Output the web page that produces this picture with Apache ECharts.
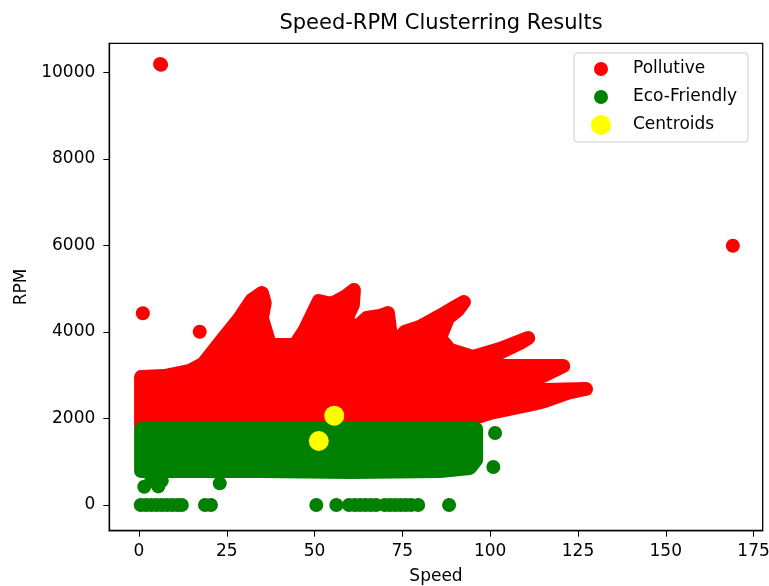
<!DOCTYPE html>
<html>
<head>
<meta charset="utf-8">
<script src="https://cdn.jsdelivr.net/npm/echarts@6/dist/echarts.min.js"></script>
<style>
    html, body {margin: 0; padding: 0; background: #fff;}
    #chart {width: 769px; height: 586px;}
</style>
</head>
<body>
<div id="chart"></div>
<script>
// outline (marker centres) of the dense red cloud
const pollutiveSpeed = [0.6, 0.6, 7.3, 14.5, 18.2, 23.6, 28.7, 32.1, 35.0, 35.8, 35.0, 37.3, 44.4, 47.2, 51.2, 54.9, 58.6, 61.2, 60.9, 58.9,
    61.8, 64.9, 68.6, 70.9, 71.5, 72.3, 75.7, 80.0, 85.7, 90.0, 92.5, 90.8, 88.0, 85.7, 88.6, 95.1, 102.8, 110.8, 108.5, 101.4,
    98.8, 109.9, 120.8, 115.6, 111.4, 109.1, 115.6, 127.3, 122.8, 115.6, 112.2, 100.0, 93.4, 93.4];
const pollutiveRpm = [1800, 2958, 2981, 3097, 3259, 3813, 4322, 4738, 4899, 4668, 4322, 3698, 3698, 4044, 4714, 4645, 4807, 4969, 4622, 4275,
    4090, 4322, 4368, 4437, 4044, 3698, 3998, 4114, 4368, 4576, 4691, 4506, 4322, 3859, 3582, 3420, 3605, 3859, 3744, 3467,
    3212, 3212, 3212, 3004, 2866, 2658, 2658, 2681, 2611, 2403, 2334, 2126, 1964, 1800];
// single red points away from the cloud
const pollutiveDotSpeed = [6.0, 6.3, 169.1, 1.1, 17.3];
const pollutiveDotRpm = [10190, 10175, 5993, 4430, 4005];

// outline of the green cloud
const ecoSpeed = [0.6, 0.6, 96.0, 96.0, 94.2, 85.7, 60.1, 34.4, 17.3, 0.6];
const ecoRpm = [786, 1756, 1756, 1040, 855, 786, 763, 786, 786, 786];
// single green points (stragglers and the zero-rpm row)
const ecoDotSpeed = [101.4, 100.9, 1.5, 5.5, 3.5, 23.0, 6.5,
    0.5, 2, 3.5, 5, 6.5, 8, 9.5, 11, 12.2, 18.8, 20.5, 50.5, 56.2, 59.8, 61.5, 63, 64.5, 66, 67.5,
    70, 71.5, 73, 74.5, 76, 77.5, 79.5, 88.3];
const ecoDotRpm = [1664, 878, 420, 430, 560, 500, 560,
    0, 0, 0, 0, 0, 0, 0, 0, 0, 0, 0, 0, 0, 0, 0, 0, 0, 0, 0,
    0, 0, 0, 0, 0, 0, 0, 0];

const centroidSpeed = [55.6, 51.2];
const centroidRpm = [2064, 1479];

const xTicks = [0, 25, 50, 75, 100, 125, 150, 175];
const yTicks = [0, 2000, 4000, 6000, 8000, 10000];

function pairs(xs, ys) {
    const out = [];
    for (let i = 0; i < xs.length; i++) {
        out.push([xs[i], ys[i]]);
    }
    return out;
}

// the cloud is drawn as its outline, stroked with the marker diameter
function cloud(name, speeds, rpms, color) {
    return {
        name: name,
        type: 'custom',
        silent: true,
        data: [[speeds[0], rpms[0]]],
        renderItem: function (params, api) {
            const pts = pairs(speeds, rpms).map(function (p) { return api.coord(p); });
            return {
                type: 'polygon',
                shape: {points: pts},
                style: {fill: color, stroke: color, lineWidth: 14, lineJoin: 'round'}
            };
        }
    };
}

const font = 'DejaVu Sans';
const chart = echarts.init(document.getElementById('chart'));

const option = {
    animation: false,
    backgroundColor: '#fff',
    title: {
        text: 'Speed-RPM Clusterring Results',
        left: 436,
        top: 8,
        textAlign: 'center',
        textStyle: {fontFamily: font, fontSize: 21, fontWeight: 'normal', color: '#000'}
    },
    legend: {
        orient: 'vertical',
        left: 574,
        top: 53,
        padding: [6, 11, 7, 0],
        itemWidth: 54,
        itemHeight: 20,
        itemGap: 8,
        borderColor: '#ccc',
        borderWidth: 1,
        borderRadius: 3,
        textStyle: {fontFamily: font, fontSize: 17, color: '#000'},
        data: [
            {name: 'Pollutive', icon: 'path://M0,0M54,20M20,10a7,7,0,1,0,14,0a7,7,0,1,0,-14,0z', itemStyle: {color: '#ff0000'}},
            {name: 'Eco-Friendly', icon: 'path://M0,0M54,20M20,10a7,7,0,1,0,14,0a7,7,0,1,0,-14,0z', itemStyle: {color: '#008000'}},
            {name: 'Centroids', icon: 'path://M0,0M54,20M17,10a10,10,0,1,0,20,0a10,10,0,1,0,-20,0z', itemStyle: {color: '#ffff00'}}
        ]
    },
    grid: {
        left: 109.3,
        right: 6.3,
        top: 43.3,
        bottom: 55.3,
        outerBoundsMode: 'none',
        show: true,
        borderColor: '#000',
        borderWidth: 1.3
    },
    xAxis: {
        type: 'value',
        min: -8.45,
        max: 177.6,
        name: 'Speed',
        nameLocation: 'middle',
        nameGap: 37,
        nameTextStyle: {fontFamily: font, fontSize: 17, color: '#000'},
        splitLine: {show: false},
        axisLine: {onZero: false, lineStyle: {color: '#000', width: 1.3}},
        axisTick: {customValues: xTicks, length: 6, lineStyle: {color: '#000'}},
        axisLabel: {
            customValues: xTicks, margin: 12, fontFamily: font, fontSize: 17, color: '#000',
            formatter: function (v) { return String(v); }
        }
    },
    yAxis: {
        type: 'value',
        min: -594,
        max: 10670,
        name: 'RPM',
        nameLocation: 'middle',
        nameGap: 64,
        nameTextStyle: {fontFamily: font, fontSize: 17, color: '#000'},
        splitLine: {show: false},
        axisLine: {onZero: false, lineStyle: {color: '#000', width: 1.3}},
        axisTick: {customValues: yTicks, length: 6, lineStyle: {color: '#000'}},
        axisLabel: {
            customValues: yTicks, margin: 14, fontFamily: font, fontSize: 17, color: '#000',
            formatter: function (v) { return String(v); }
        }
    },
    series: [
        cloud('Pollutive', pollutiveSpeed, pollutiveRpm, '#ff0000'),
        {
            name: 'Pollutive',
            type: 'scatter',
            symbolSize: 14,
            itemStyle: {color: '#ff0000', opacity: 1},
            data: pairs(pollutiveDotSpeed, pollutiveDotRpm)
        },
        cloud('Eco-Friendly', ecoSpeed, ecoRpm, '#008000'),
        {
            name: 'Eco-Friendly',
            type: 'scatter',
            symbolSize: 14,
            itemStyle: {color: '#008000', opacity: 1},
            data: pairs(ecoDotSpeed, ecoDotRpm)
        },
        {
            name: 'Centroids',
            type: 'scatter',
            symbolSize: 20,
            itemStyle: {color: '#ffff00', opacity: 1},
            data: pairs(centroidSpeed, centroidRpm)
        }
    ]
};

chart.setOption(option);
</script>
</body>
</html>
